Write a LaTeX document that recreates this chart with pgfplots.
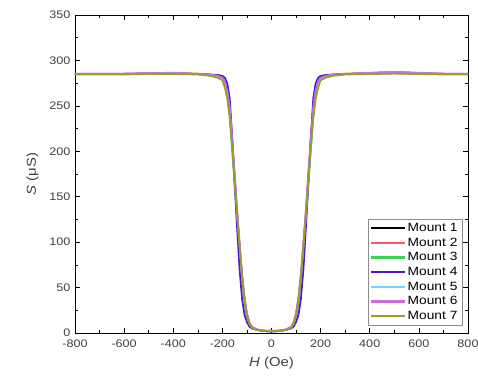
\documentclass[border=0pt]{standalone}
\usepackage{fontspec}
\setmainfont{Liberation Sans}[FakeStretch=1.15]
\usepackage{pgfplots}
\usepackage{pgfplotstable}
\pgfplotsset{compat=1.18}
\definecolor{c1}{RGB}{0,0,0}
\definecolor{c2}{RGB}{255,90,100}
\definecolor{c3}{RGB}{60,210,90}
\definecolor{c4}{RGB}{80,20,210}
\definecolor{c5}{RGB}{110,215,250}
\definecolor{c6}{RGB}{205,110,215}
\definecolor{c7}{RGB}{150,160,40}
\pgfplotstableread{
H m1 m2 m3 m4 m5 m6 m7
-800 285 285.5 285 285 285 285.5 284.5
-700 285 285.5 285 285 285 285.5 284.5
-600 285 285.5 285 285 285 285.5 284.5
-500 285.5 286 285 285.5 285.5 286 285
-400 286 286.5 285.5 285.5 286 286 285
-300 285 285.5 285 285 285 285 284.5
-250 284 284.5 284 284.5 284 284 283
-220 283 283 282.5 284 283 283 281
-200 280 281 279 283 280 281 278
-190 275 277 273 281 275 277 270
-180 265 268 262 275 265 267 258
-170 243 250 238 258 244 248 236
-160 208 215 200 215 208 213 204
-150 170 176 162 165 170 174 168
-140 130 136 124 115 130 134 130
-130 95 100 88 70 95 98 95
-120 62 66 57 38 62 65 62
-110 36 40 33 20 36 39 36
-100 19 22 17 12 19 21 19
-90 10 12 9 7 10 11 10
-80 6 7 5.5 5 6 6.5 6
-60 3.5 4 3.5 3.5 3.5 4 3.5
-40 2.5 3 2.5 2.5 2.5 3 2.5
-20 2 2.5 2 2 2 2.5 2
0 2 2.5 2 2 2 2.5 2
20 2 2.5 2 2 2 2.5 2
40 2.5 3 2.5 2.5 2.5 3 2.5
60 3.5 4 3.5 3.5 3.5 4 3.5
80 6 7 5.5 5 6 6.5 6
90 10 12 9 7 10 11 10
100 19 22 17 12 19 21 19
110 36 40 33 20 36 39 36
120 62 66 57 38 62 65 62
130 95 100 88 70 95 98 95
140 130 136 124 115 130 134 130
150 170 176 162 165 170 174 168
160 208 215 200 215 208 213 204
170 243 250 238 258 244 248 236
180 265 268 262 275 265 267 258
190 275 277 273 281 275 277 270
200 280 281 279 283 280 281 278
220 283 283 282.5 284 283 283 281
250 284 284.5 284 284.5 284 284 283
300 285 285.5 285 285 285 285 284.5
400 286 286.5 285.5 285.5 286 286 285
500 287 287.5 286 286 287 287 285.5
600 286 286.5 285.5 285.5 286 286 285
700 285 285.5 285 285 285 285.5 284.5
800 285 285.5 285 285 285 285.5 284.5
}\data
\begin{document}
\begin{tikzpicture}
\begin{axis}[
  scale only axis,
  width=393bp, height=318bp,
  xmin=-800, xmax=800, ymin=0, ymax=350,
  xtick={-800,-600,...,800},
  ytick={0,50,...,350},
  minor x tick num=1,
  minor y tick num=1,
  tick align=inside,
  tick pos=both,
  major tick length=5bp,
  minor tick length=3bp,
  axis line style={black, line width=0.8pt},
  every tick/.style={black, line width=0.6pt},
  tick label style={font=\fontsize{11}{13}\selectfont, text=black!75},
  xticklabel style={yshift=-3bp},
  yticklabel style={xshift=-1bp},
  label style={font=\fontsize{13}{15}\selectfont, text=black!75},
  /pgf/number format/assume math mode=true,
  xlabel={\textit{H} (Oe)},
  ylabel={\textit{S} (μS)},
  xlabel style={yshift=-3bp},
  ylabel style={yshift=4bp},
  legend style={at={(0.985,0.023)}, anchor=south east, draw=black!45, line width=0.4pt,
    font=\fontsize{12}{14}\selectfont, row sep=0.9pt, inner sep=2.5pt},
  legend cell align=left,
  legend image post style={xscale=1.95, line width=2.2pt},
  every axis plot/.append style={line width=1.7pt, line join=round},
]
\addplot[c1] table[x=H,y=m1]{\data};
\addplot[c2] table[x=H,y=m2]{\data};
\addplot[c3] table[x=H,y=m3]{\data};
\addplot[c4] table[x=H,y=m4]{\data};
\addplot[c5] table[x=H,y=m5]{\data};
\addplot[c6] table[x=H,y=m6]{\data};
\addplot[c7] table[x=H,y=m7]{\data};
\legend{Mount 1,Mount 2,Mount 3,Mount 4,Mount 5,Mount 6,Mount 7}
\end{axis}
\pgfresetboundingbox
\path (current axis.south west) ++(-75bp,-50bp) coordinate (bl);
\path (current axis.north east) ++(10bp,15bp) coordinate (tr);
\path[use as bounding box] (bl) rectangle (tr);
\end{tikzpicture}
\end{document}
